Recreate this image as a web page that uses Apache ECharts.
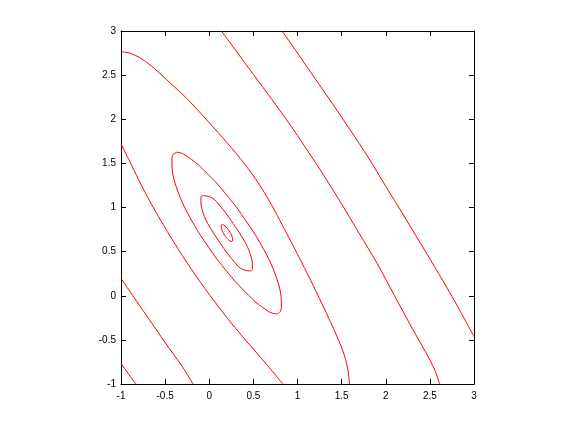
<!DOCTYPE html>
<html>
<head>
<meta charset="utf-8">
<script src="https://cdn.jsdelivr.net/npm/echarts@6/dist/echarts.min.js"></script>
<style>
html,body{margin:0;padding:0;background:#fff;}
#chart{width:576px;height:432px;}
</style>
</head>
<body>
<div id="chart"></div>
<script>
// Axis ticks
const xTicks = [-1, -0.5, 0, 0.5, 1, 1.5, 2, 2.5, 3];
const yTicks = [-1, -0.5, 0, 0.5, 1, 1.5, 2, 2.5, 3];

// Contour curves (x, y)
const curveA = [[-1,2.765],[-0.921,2.754],[-0.807,2.709],[-0.694,2.634],[-0.581,2.539],[-0.467,2.432],[-0.354,2.33],[-0.241,2.222],[-0.127,2.1],[-0.014,1.977],[0.099,1.851],[0.212,1.722],[0.3,1.619],[0.4,1.494],[0.5,1.359],[0.6,1.209],[0.7,1.039],[0.8,0.854],[0.9,0.664],[1.0,0.471],[1.1,0.274],[1.2,0.071],[1.3,-0.139],[1.4,-0.354],[1.48,-0.538],[1.535,-0.686],[1.572,-0.845],[1.59,-1]];
const curveB = [[0.138,3],[0.3,2.78],[0.5,2.508],[0.7,2.237],[0.9,1.96],[1.1,1.665],[1.3,1.36],[1.5,1.04],[1.7,0.705],[1.9,0.37],[2.1,0.0],[2.3,-0.37],[2.45,-0.635],[2.555,-0.84],[2.611,-1]];
const curveC = [[0.826,3],[1.0,2.75],[1.2,2.46],[1.4,2.17],[1.6,1.875],[1.8,1.57],[2.0,1.24],[2.2,0.915],[2.4,0.585],[2.6,0.25],[2.8,-0.095],[3,-0.464]];
const curveD = [[-1,1.72],[-0.9,1.52],[-0.8,1.315],[-0.7,1.12],[-0.6,0.94],[-0.5,0.77],[-0.4,0.605],[-0.3,0.447],[-0.2,0.297],[-0.1,0.153],[0,0.015],[0.1,-0.118],[0.2,-0.247],[0.3,-0.37],[0.4,-0.49],[0.5,-0.605],[0.6,-0.72],[0.7,-0.838],[0.836,-1]];
const curveE = [[-1,0.198],[-0.9,0.05],[-0.8,-0.095],[-0.7,-0.24],[-0.6,-0.385],[-0.5,-0.53],[-0.4,-0.67],[-0.3,-0.81],[-0.184,-1]];
const curveF = [[-1,-0.766],[-0.921,-0.879],[-0.833,-1]];
const ellipseL = [[-0.37,1.626],[-0.3,1.61],[-0.202,1.545],[-0.127,1.487],[-0.052,1.415],[0.024,1.338],[0.099,1.26],[0.175,1.168],[0.251,1.075],[0.326,0.98],[0.402,0.868],[0.5,0.725],[0.609,0.54],[0.67,0.425],[0.722,0.31],[0.77,0.18],[0.8,0.075],[0.815,-0.02],[0.817,-0.13],[0.804,-0.18],[0.764,-0.206],[0.694,-0.19],[0.596,-0.125],[0.521,-0.067],[0.446,0.005],[0.37,0.082],[0.295,0.16],[0.219,0.252],[0.143,0.345],[0.068,0.44],[-0.008,0.552],[-0.106,0.695],[-0.215,0.88],[-0.276,0.995],[-0.328,1.11],[-0.376,1.24],[-0.406,1.345],[-0.421,1.44],[-0.423,1.55],[-0.41,1.6],[-0.37,1.626]];
const ellipseM = [[-0.059,1.134],[0.005,1.122],[0.06,1.09],[0.099,1.045],[0.186,0.94],[0.27,0.82],[0.35,0.7],[0.41,0.6],[0.45,0.515],[0.475,0.44],[0.487,0.38],[0.489,0.31],[0.478,0.285],[0.453,0.282],[0.389,0.294],[0.334,0.326],[0.295,0.371],[0.208,0.476],[0.124,0.596],[0.044,0.716],[-0.016,0.816],[-0.056,0.901],[-0.081,0.976],[-0.093,1.036],[-0.095,1.106],[-0.084,1.131],[-0.059,1.134]];
const ellipseS = [[0.145,0.808],[0.165,0.802],[0.194,0.776],[0.215,0.75],[0.235,0.72],[0.252,0.69],[0.262,0.66],[0.264,0.635],[0.262,0.62],[0.255,0.614],[0.235,0.62],[0.206,0.646],[0.185,0.672],[0.165,0.702],[0.148,0.732],[0.138,0.762],[0.136,0.787],[0.138,0.802],[0.145,0.808]];

const curves = [curveA, curveB, curveC, curveD, curveE, curveF, ellipseL, ellipseM, ellipseS];

const chart = echarts.init(document.getElementById('chart'), null, {renderer: 'canvas'});

const fontFamily = '"Liberation Sans", Helvetica, Arial, sans-serif';
function axisBase(ticks, position, showLabel, margin) {
  return {
    type: 'value',
    position: position,
    min: ticks[0],
    max: ticks[ticks.length - 1],
    interval: 0.5,
    axisLine: {show: true, onZero: false, lineStyle: {color: '#000', width: 1}},
    axisTick: {show: true, inside: true, length: 5, lineStyle: {color: '#000', width: 1}},
    splitLine: {show: false},
    axisLabel: {show: showLabel, color: '#000', fontSize: 10, fontFamily: fontFamily, margin: margin}
  };
}

chart.setOption({
  animation: false,
  backgroundColor: '#fff',
  grid: {left: 121, top: 31, width: 353, height: 353, containLabel: false},
  xAxis: [
    axisBase(xTicks, 'bottom', true, 7),
    axisBase(xTicks, 'top', false, 7)
  ],
  yAxis: [
    axisBase(yTicks, 'left', true, 5),
    axisBase(yTicks, 'right', false, 5)
  ],
  series: curves.map(function (c) {
    return {
      type: 'line',
      xAxisIndex: 0,
      yAxisIndex: 0,
      data: c,
      showSymbol: false,
      symbol: 'none',
      smooth: 0.3,
      lineStyle: {color: '#ff0000', width: 1},
      silent: true
    };
  })
});
</script>
</body>
</html>
